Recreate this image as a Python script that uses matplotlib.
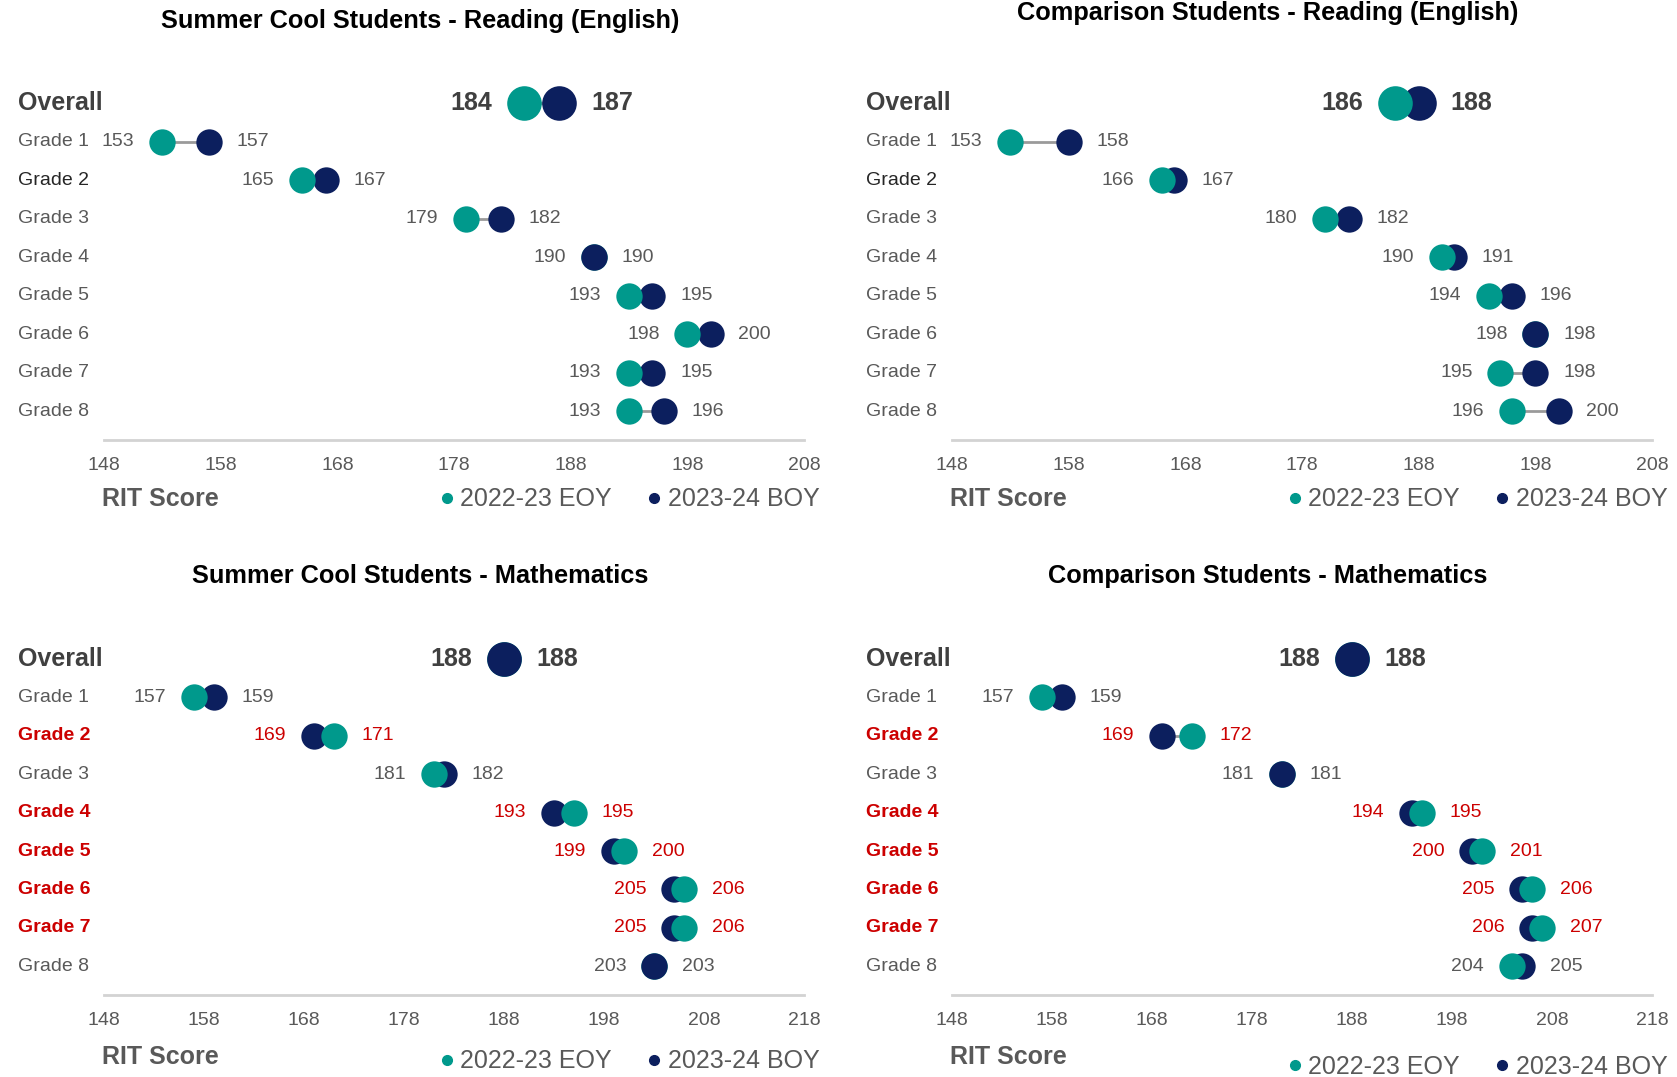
import matplotlib.pyplot as plt
from matplotlib.lines import Line2D

plt.rcParams["font.family"] = ["Liberation Sans", "DejaVu Sans"]

TEAL = "#00998c"
NAVY = "#0c1f5e"
RED = "#cc0000"
GREY = "#595959"
DARK = "#404040"

ROWS = ["Overall", "Grade 1", "Grade 2", "Grade 3", "Grade 4",
        "Grade 5", "Grade 6", "Grade 7", "Grade 8"]

# 2022-23 end-of-year / 2023-24 beginning-of-year mean RIT scores
summer_read_eoy = [184, 153, 165, 179, 190, 193, 198, 193, 193]
summer_read_boy = [187, 157, 167, 182, 190, 195, 200, 195, 196]
comp_read_eoy = [186, 153, 166, 180, 190, 194, 198, 195, 196]
comp_read_boy = [188, 158, 167, 182, 191, 196, 198, 198, 200]
summer_math_eoy = [188, 157, 171, 181, 195, 200, 206, 206, 203]
summer_math_boy = [188, 159, 169, 182, 193, 199, 205, 205, 203]
comp_math_eoy = [188, 157, 172, 181, 195, 201, 206, 207, 204]
comp_math_boy = [188, 159, 169, 181, 194, 200, 205, 206, 205]

read_ticks = [148, 158, 168, 178, 188, 198, 208]
math_ticks = [148, 158, 168, 178, 188, 198, 208, 218]

W, H = 1677, 1077
fig = plt.figure(figsize=(W / 100, H / 100), dpi=100)


def px_axes(left, right, bottom, top):
    return fig.add_axes([left / W, 1 - bottom / H, (right - left) / W, (bottom - top) / H])


def panel(ax, eoy, boy, ticks, rit_y, legend_y, dark_rows=()):
    ax.set_xlim(ticks[0], ticks[-1])
    ax.set_ylim(8.75, -0.6)
    ytr = ax.get_yaxis_transform()
    for i, (e, b) in enumerate(zip(eoy, boy)):
        big = i == 0
        size = 620 if big else 360
        ax.plot([e, b], [i, i], color="#9a9a9a", lw=2, zorder=1, solid_capstyle="butt")
        ax.scatter([b], [i], s=size, color=NAVY, zorder=3, linewidths=0)
        ax.scatter([e], [i], s=size, color=TEAL, zorder=4 if e != b else 2, linewidths=0)

        # rows where the fall score dropped below spring are flagged in red
        drop = b < e
        if big:
            lab_color, num_color = DARK, DARK
            weight, lfs, nfs = "bold", 18, 18
        elif drop:
            lab_color, num_color = RED, RED
            weight, lfs, nfs = "bold", 14, 14
        else:
            lab_color = "#262626" if ROWS[i] in dark_rows else GREY
            num_color = GREY
            weight, lfs, nfs = "normal", 14, 14
        ax.text(-0.123, i, ROWS[i], transform=ytr, ha="left", va="center",
                fontsize=lfs, color=lab_color, fontweight=weight)

        off = 23 if big else 20
        lo, hi = min(e, b), max(e, b)
        ax.annotate(f"{lo}", (lo, i), xytext=(-off, 0), textcoords="offset points",
                    ha="right", va="center", fontsize=nfs, color=num_color,
                    fontweight="bold" if big else "normal")
        ax.annotate(f"{hi}", (hi, i), xytext=(off, 0), textcoords="offset points",
                    ha="left", va="center", fontsize=nfs, color=num_color,
                    fontweight="bold" if big else "normal")

    ax.set_xticks(ticks)
    ax.set_yticks([])
    ax.tick_params(axis="x", length=0, pad=12, labelsize=14, labelcolor=GREY)
    for side in ("top", "left", "right"):
        ax.spines[side].set_visible(False)
    ax.spines["bottom"].set_color("#d3d3d3")
    ax.spines["bottom"].set_linewidth(2)

    ax.text(-0.003, rit_y, "RIT Score", transform=ax.transAxes, ha="left",
            va="center", fontsize=18, fontweight="bold", color=GREY)
    handles = [
        Line2D([], [], marker="o", ls="none", color=TEAL, markersize=7, label="2022-23 EOY"),
        Line2D([], [], marker="o", ls="none", color=NAVY, markersize=7, label="2023-24 BOY"),
    ]
    ax.legend(handles=handles, loc="center right", bbox_to_anchor=(1.037, legend_y),
              ncol=2, frameon=False, fontsize=18, labelcolor=GREY,
              handletextpad=0.05, columnspacing=1.2, handlelength=1.0,
              borderaxespad=0)


ax1 = px_axes(104, 804, 440, 80)
panel(ax1, summer_read_eoy, summer_read_boy, read_ticks, -0.165, -0.165,
      dark_rows=("Grade 2",))
ax2 = px_axes(952, 1652, 440, 80)
panel(ax2, comp_read_eoy, comp_read_boy, read_ticks, -0.165, -0.165,
      dark_rows=("Grade 2",))
ax3 = px_axes(104, 804, 995, 636)
panel(ax3, summer_math_eoy, summer_math_boy, math_ticks, -0.172, -0.185)
ax4 = px_axes(952, 1652, 995, 636)
panel(ax4, comp_math_eoy, comp_math_boy, math_ticks, -0.172, -0.2)

title_kw = dict(ha="center", va="center", fontsize=18.3, fontweight="bold", color="black")
fig.text(420 / W, 1 - 21 / H, "Summer Cool Students - Reading (English)", **title_kw)
fig.text(1268 / W, 1 - 13 / H, "Comparison Students - Reading (English)", **title_kw)
fig.text(420 / W, 1 - 576 / H, "Summer Cool Students - Mathematics", **title_kw)
fig.text(1268 / W, 1 - 576 / H, "Comparison Students - Mathematics", **title_kw)

fig.savefig("out.png", dpi=100, facecolor="white")
